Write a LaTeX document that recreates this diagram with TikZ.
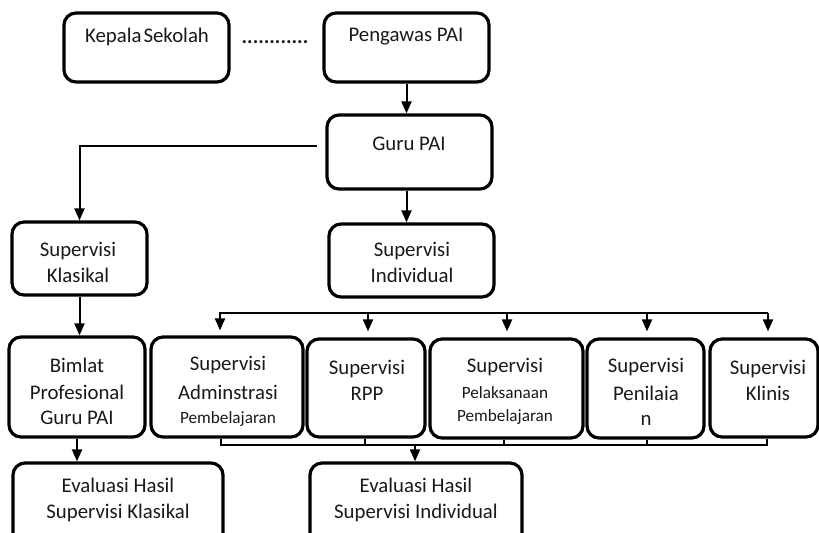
\documentclass[tikz,border=0pt]{standalone}
\usepackage{fontspec}
\setmainfont{Carlito}
\usetikzlibrary{fit,arrows.meta,calc}
\begin{document}
\begin{tikzpicture}[x=0.5pt,y=-0.5pt,
  box/.style={draw, line width=1.6pt, rounded corners=6pt, inner sep=0pt},
  txt/.style={font=\fontsize{10.4pt}{13pt}\selectfont, align=center, inner sep=0pt, text=black!90},
  smalltxt/.style={font=\fontsize{8.6pt}{13pt}\selectfont, inner sep=0pt, text=black!90},
  conn/.style={line width=1pt},
  arr/.style={conn, -{Triangle[length=6pt,width=5pt]}}]
\clip (0,0) rectangle (819,532);
% boxes
\node[box, fit={(64,13) (229,82)}] (ks) {};
\node[box, fit={(324,13) (489,82)}] (pg) {};
\node[box, fit={(327,115) (492,189)}] (guru) {};
\node[box, fit={(12,222) (147,295)}] (sk) {};
\node[box, fit={(329,224) (494,297)}] (si) {};
\node[box, fit={(9,337) (145,437)}] (bim) {};
\node[box, fit={(151,337) (303,437)}] (adm) {};
\node[box, fit={(307,339) (425,437)}] (rpp) {};
\node[box, fit={(430,339) (583,438)}] (pel) {};
\node[box, fit={(587,339) (704,438)}] (pen) {};
\node[box, fit={(710,339) (818,437)}] (kl) {};
\node[box, fit={(13,463) (223,545)}] (ek) {};
\node[box, fit={(310,463) (522,545)}] (ei) {};
% texts
\node[txt] (ksT) at (147,37) {Kepala\hspace{0.1em}Sekolah};
\node[txt, font=\fontsize{10.4pt}{13pt}\bfseries] (dots) at (275,42) {............};
\node[txt] (pgT) at (406,37) {Pengawas PAI};
\node[txt] (guruT) at (409,144) {Guru PAI};
\node[txt] (skT) at (78,262) {Supervisi\\Klasikal};
\node[txt] (siT) at (412,262) {Supervisi\\Individual};
\node[txt] (bimT1) at (77,365) {Bimlat};
\node[txt] (bimT2) at (77,392) {Profesional};
\node[txt] (bimT3) at (77,418) {Guru PAI};
\node[txt] (admT1) at (228,365) {Supervisi};
\node[txt] (admT2) at (228,392) {Adminstrasi};
\node[smalltxt] (admT3) at (228,419) {Pembelajaran};
\node[txt] (rppT) at (367,380) {Supervisi\\RPP};
\node[txt] (pelT1) at (505,367) {Supervisi};
\node[smalltxt] (pelT2) at (505,393) {Pelaksanaan};
\node[smalltxt] (pelT3) at (505,417) {Pembelajaran};
\node[txt] (penT1) at (646,367) {Supervisi};
\node[txt] (penT2) at (646,393) {Penilaia};
\node[txt] (penT3) at (646,420) {n};
\node[txt] (klT) at (768,380) {Supervisi\\Klinis};
\node[txt] (ekT) at (118,500) {Evaluasi Hasil\\Supervisi Klasikal};
\node[txt] (eiT) at (416,500) {Evaluasi Hasil\\Supervisi Individual};
% connectors
\draw[arr] (pg.south) -- (guru.north -| pg.south);
\coordinate (gl) at (317,146);
\draw[arr] (gl) -| (sk.north);
\draw[arr] (guru.south -| pg.south) -- (si.north -| pg.south);
\draw[arr] (sk.south) -- (sk.south |- bim.north);
\draw[arr] (bim.south) -- (bim.south |- ek.north);
% top bus
\coordinate (bL) at (220,313);
\coordinate (b2) at (368,313);
\coordinate (b3) at (507,313);
\coordinate (b4) at (647,313);
\coordinate (bR) at (768,313);
\draw[arr, shorten >=2.5pt] (bR) -- (bL) -- (bL |- adm.north);
\draw[arr, shorten >=3pt] (b2) -- (b2 |- rpp.north);
\draw[arr, shorten >=3pt] (b3) -- (b3 |- pel.north);
\draw[arr, shorten >=3pt] (b4) -- (b4 |- pen.north);
\draw[arr, shorten >=3pt] (bR) -- (bR |- kl.north);
% bottom bus
\coordinate (cL) at (221,445);
\coordinate (c2) at (365,445);
\coordinate (c3) at (504,445);
\coordinate (c4) at (647,445);
\coordinate (cR) at (767,445);
\coordinate (c5) at (415,445);
\draw[conn] (cL |- adm.south) -- (cL) -- (cR) -- (cR |- kl.south);
\draw[conn] (c2 |- rpp.south) -- (c2);
\draw[conn] (c3 |- pel.south) -- (c3);
\draw[conn] (c4 |- pen.south) -- (c4);
\draw[arr] (c5) -- (c5 |- ei.north);
\end{tikzpicture}
\end{document}
